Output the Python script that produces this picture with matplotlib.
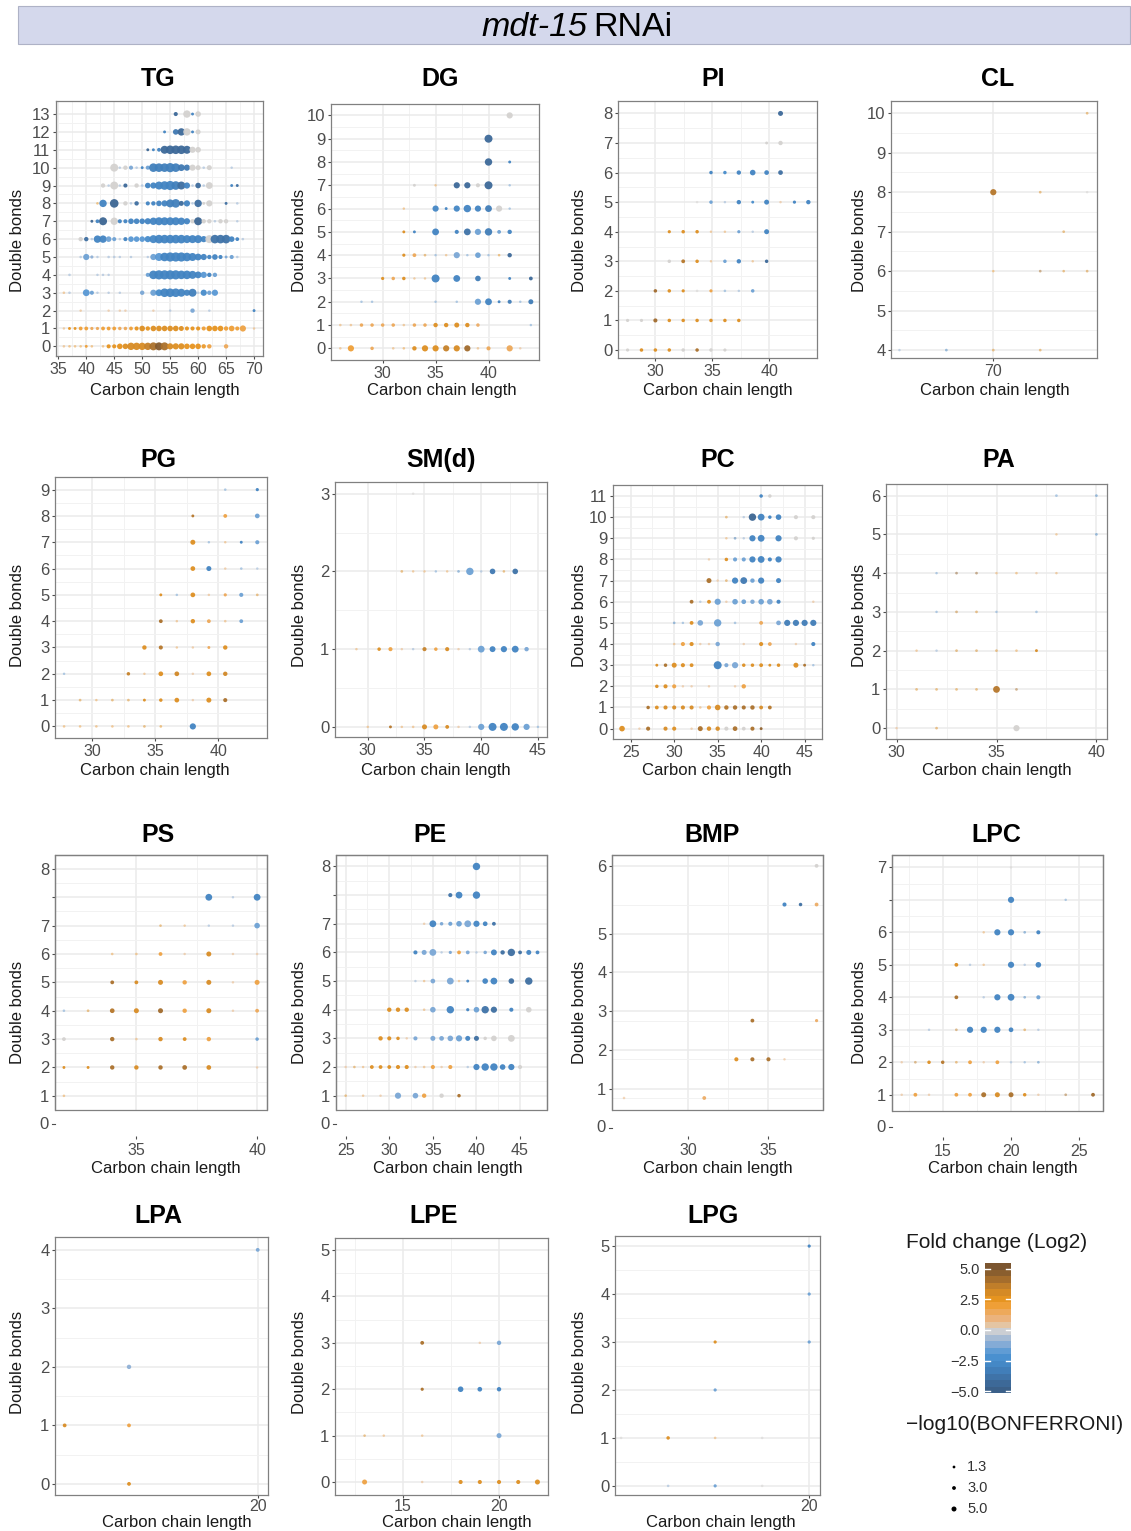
import matplotlib
matplotlib.use("Agg")
import matplotlib.pyplot as plt
import numpy as np
from matplotlib.colors import LinearSegmentedColormap, Normalize
from matplotlib.patches import Rectangle
import matplotlib.transforms as mtransforms

plt.rcParams['font.family'] = ['Liberation Sans', 'DejaVu Sans']

# ---------------- data: (carbon, double bonds / row position, log2 FC, -log10 p) ----------------
TG = [
(56,13,-4.3,3.5),(58,13,0,9),(59,13,-3,1.5),(60,13,0,6),
(54,12,-3,1.5),(56,12,-3.5,6),(57,12,-4.3,9),(58,12,0,9),(59,12,-3,1.5),(60,12,0,5),
(51,11,-4.5,1.5),(52,11,-3,1.5),(53,11,-3,3),(54,11,-4.3,10),(55,11,-4.3,11),(56,11,-4.3,11),(57,11,-4.3,11),(58,11,-4.3,10),(59,11,0,7),(60,11,0,6),
(45,10,0,10),(46,10,-1,0.8),(47,10,0,4),(48,10,-1.3,3.5),(49,10,-1,1),(50,10,-3,1.5),(51,10,-1.5,3.5),(52,10,-3.2,11),(53,10,-3.2,11),(54,10,-3.2,11),(55,10,-3.2,12),(56,10,-3.2,11),(57,10,-3.5,8),(58,10,-3.5,7),(59,10,0,7),(60,10,0,5),(61,10,-1,1),(62,10,0,5),(66,10,-1,0.8),
(43,9,0,4),(44,9,-1,1),(45,9,0,10),(46,9,-1,0.8),(47,9,-4.3,3.5),(49,9,0,4),(50,9,-1,1),(51,9,-3,6),(52,9,-3,7),(53,9,-3,10),(54,9,-3,11),(55,9,-3,12),(56,9,-3.2,11),(57,9,-4,10),(58,9,-3,7),(59,9,-1,1),(60,9,-4.2,6),(61,9,-1,1),(62,9,0,8),(66,9,-3,1.5),(67,9,-4,1.5),
(42,8,2.5,1),(43,8,-3,9),(45,8,-4.5,11),(47,8,0,4),(48,8,-1,1),(49,8,-4,4),(51,8,-3,3.5),(52,8,-3,4),(53,8,-3,6),(54,8,-3,7),(55,8,-3.2,10),(56,8,-3.2,11),(57,8,-4.2,5),(58,8,-3,7),(59,8,-1,1),(60,8,-4,9),(61,8,0,1.5),(62,8,0,7),(65,8,-4,1.5),(67,8,-1,1),
(41,7,-4.5,1.5),(42,7,-3,3),(43,7,-4.5,10),(45,7,0,9),(46,7,-3,3.5),(47,7,-3,3.5),(48,7,-3,6),(49,7,-3,6),(50,7,-3,6),(51,7,-3,7),(52,7,-3,9),(53,7,-3,10),(54,7,-3,10),(55,7,-3,10),(56,7,-3,10),(57,7,-3,9),(58,7,-3,7),(59,7,0,4),(60,7,-4.5,10),(61,7,0,4),(62,7,0,4),(63,7,-1,1),(64,7,0,4),(65,7,0,4),(67,7,-1,0.8),
(39,6,0,4),(40,6,-4,4),(41,6,-1,1),(42,6,-3,9),(43,6,-3,9),(44,6,-1.5,6),(45,6,-1.5,3.5),(46,6,-1,1),(47,6,-3,3.5),(48,6,-1.8,6),(49,6,-1.8,6),(50,6,-1.8,6),(51,6,-2.5,7),(52,6,-2.8,10),(53,6,-3,11),(54,6,-3,11),(55,6,-3,11),(56,6,-3,11),(57,6,-3,11),(58,6,-3,10),(59,6,-3,10),(60,6,-3,10),(61,6,-3,7),(62,6,0,10),(63,6,-3.8,11),(64,6,-3.8,11),(65,6,-3.8,11),(66,6,-3,6),(67,6,-3,3),(68,6,-1,1),
(39,5,-1,1),(40,5,-1.5,7),(41,5,-1,2),(42,5,-1,0.8),(44,5,-1,1),(45,5,-1,1),(46,5,-1,0.8),(48,5,-1,0.8),(51,5,-1,0.8),(52,5,-1.5,7),(53,5,-1.8,10),(54,5,-3,11),(55,5,-3,12),(56,5,-3,12),(57,5,-3,12),(58,5,-3,11),(59,5,-3,10),(60,5,-3,8),(61,5,-3,7),(62,5,-3,4),(63,5,-3,6),(64,5,-3,3.5),(65,5,-1.3,1.5),(66,5,-1.5,3.5),(67,5,-1,1),
(37,4,-1,1),(42,4,-1,0.8),(43,4,-1,0.8),(44,4,-1,0.8),(51,4,-1.5,3.5),(52,4,-3,11),(53,4,-3,12),(54,4,-3,12),(55,4,-3,12),(56,4,-3,12),(57,4,-3,11),(58,4,-3,11),(59,4,-3,10),(60,4,-3,8),(61,4,-1.8,7),(62,4,-3,4),(63,4,-1.5,4),
(36,3,1.5,1),(37,3,-1,1),(40,3,-1.8,8),(41,3,-1.5,3.5),(42,3,-1,0.8),(44,3,-1,0.8),(46,3,-1,0.8),(50,3,-1.3,4),(52,3,-1.5,7),(53,3,-2.5,8),(54,3,-3,11),(55,3,-3,11),(56,3,-3,11),(57,3,-3,10),(58,3,-3,7),(59,3,-3.2,10),(60,3,-1,1),(61,3,-2.5,7),(62,3,-1.5,4),(63,3,-1.8,7),
(39,2,1.3,0.8),(44,2,1,0.8),(46,2,1,0.8),(47,2,1,0.8),(52,2,1,0.8),(55,2,-1,0.8),(59,2,-1.3,4),(62,2,-1,0.8),(70,2,-3,1.5),
(36,1,1.5,0.8),(37,1,2.5,1.5),(38,1,2.5,1.5),(39,1,2,3),(40,1,2,3),(41,1,1.5,2),(42,1,1.5,2),(43,1,2,3),(44,1,2,3),(45,1,2,3),(46,1,1.5,2.5),(47,1,1.5,2.5),(48,1,2,3),(49,1,2.5,3.5),(50,1,2.8,6),(51,1,2.5,4),(52,1,2.8,6),(53,1,2.8,6),(54,1,2.8,6),(55,1,2.8,6),(56,1,2.8,6),(57,1,2.8,5),(58,1,2.5,3.5),(59,1,2.5,3.5),(60,1,2.5,3.5),(61,1,2,3.5),(62,1,2.5,6),(63,1,2.5,6),(64,1,2.5,6),(65,1,2,4),(66,1,2,6),(67,1,2,3.5),(68,1,1.8,7),(70,1,1.5,0.8),
(36,0,1.5,1),(37,0,2,1),(38,0,2,1),(39,0,2,1),(40,0,2,1.5),(41,0,2,1),(43,0,2,1),(44,0,2.5,3.5),(45,0,2.5,3.5),(46,0,2.5,6),(47,0,2.8,6),(48,0,3,9),(49,0,3,9),(50,0,3,9),(51,0,3.5,9),(52,0,4,10),(53,0,4.8,10),(54,0,4,10),(55,0,3,7),(56,0,2.8,7),(57,0,2.8,7),(58,0,2.5,6),(59,0,2.5,6),(60,0,2.5,6),(61,0,2.2,4),(62,0,1.8,4),(65,0,1.5,4),
]
DG = [
(42,10,0,7),
(40,9,-4.3,10),
(40,8,-4.3,9),(42,8,-3,1.5),
(33,7,0,1.5),(35,7,1.8,0.8),(37,7,-4.3,7),(38,7,-4.3,7),(39,7,0,3.5),(40,7,-4.3,10),(42,7,-1.5,0.8),
(32,6,1.8,0.8),(35,6,-2.8,7),(36,6,-3,1.5),(37,6,-2.8,7),(38,6,-3,9),(39,6,-3,7),(40,6,-3.3,8),(41,6,0,7),(42,6,-1.5,0.8),
(32,5,2.8,1.5),(33,5,-3,1.5),(35,5,-3,8),(37,5,-3,3.5),(38,5,-3.8,8),(39,5,-1.5,7),(40,5,-3.3,9),(41,5,-1.5,3),(42,5,-3,4),
(32,4,2.8,2),(33,4,1.5,3),(34,4,2.8,1.2),(35,4,-1.5,0.8),(36,4,1.5,0.8),(37,4,-1.3,7),(38,4,-1.5,0.8),(39,4,-1.5,6),(40,4,-1.5,0.8),(41,4,2.5,1),(42,4,-4.3,4),
(30,3,2.8,2),(31,3,1.5,2.5),(32,3,2.8,2.5),(33,3,1.5,0.8),(34,3,1.5,0.8),(35,3,-3,10),(37,3,-3,8),(39,3,-3.3,6),(42,3,-3,1.5),(44,3,-4.3,3),
(28,2,-1.5,0.8),(29,2,-1.5,0.8),(35,2,-1.5,0.8),(37,2,-1.5,0.8),(39,2,-1.5,7),(40,2,-3,8),(41,2,-3,1.5),(42,2,-3.3,3.5),(43,2,-1.5,0.8),(44,2,-3.3,5),
(26,1,1.5,1),(27,1,1.5,1),(28,1,1.5,2.5),(29,1,1.5,2.5),(30,1,1.5,2.5),(31,1,1.5,2.5),(32,1,1.5,1),(33,1,1.5,2.5),(34,1,1.5,2.5),(35,1,2.8,4),(36,1,2.8,4),(37,1,2.8,5),(38,1,2.8,4),(39,1,1.3,2.5),(44,1,-1.5,0.8),
(26,0,1.5,1),(27,0,2,7),(29,0,1.5,2.5),(31,0,1.5,1),(32,0,2,1),(33,0,2.8,4),(34,0,2.8,7),(35,0,2.8,7),(36,0,3.5,7),(37,0,3,7),(38,0,4.2,7),(39,0,1.5,1),(40,0,1.5,3.5),(42,0,1.5,7),(43,0,1,0.8),
]
PI = [
(40.98,8,-4.3,5),
(39.76,7,0,1.5),(40.98,7,0,4),
(34.88,6,-3,2.5),(36.1,6,-2.5,2.5),(37.32,6,-3,4),(38.54,6,-3,6),(39.76,6,-3,4.5),(40.98,6,-4,4.5),
(33.66,5,0,0.8),(34.88,5,-1.5,2.5),(36.1,5,-1,0.8),(37.32,5,-3,4),(38.54,5,-2.5,1.5),(39.76,5,-3,5),(40.98,5,1,0.8),(42.2,5,-3,2),(43.42,5,-3,4),
(31.22,4,2.8,2),(32.44,4,2.8,2.5),(33.66,4,2.8,2.5),(34.88,4,1.5,0.8),(36.1,4,1.5,0.8),(37.32,4,-1.5,2),(38.54,4,-1,0.8),(39.76,4,-3,5),
(31.22,3,0,2.5),(32.44,3,3.8,3),(33.66,3,2.8,2.5),(34.88,3,1.5,0.8),(36.1,3,-1.5,2.5),(37.32,3,-3,4),(38.54,3,1.5,0.8),(39.76,3,-4.3,2.5),
(30,2,4.2,2.5),(31.22,2,2.8,2.5),(32.44,2,2.8,2),(33.66,2,0,1),(34.88,2,1.8,2),(36.1,2,-1.5,1),(37.32,2,-1,0.8),(38.54,2,-1.5,2.5),
(27.56,1,0,2),(28.78,1,0,2),(30,1,4.2,3.5),(31.22,1,2.8,2.5),(32.44,1,2.8,2.5),(33.66,1,2.8,2.5),(34.88,1,2.8,2.5),(36.1,1,2.8,2.5),(37.32,1,2.8,2.5),
(27.56,0,0,2),(28.78,0,2.8,2.5),(30,0,2.8,2.5),(31.22,0,2.8,2.5),(32.44,0,0,2.5),(33.66,0,4,2.5),(34.88,0,0,2.5),(36.1,0,0,2),
]
CL = [
(72,10,2.8,1.2),
(70,8,3.8,7),(71,8,2.8,1.2),(72,8,0,0.8),
(71.5,7,2.8,1.2),
(70,6,2,0.8),(71,6,4,1.2),(71.5,6,2.8,1),(72,6,3,1.2),
(68,4,-1,0.8),(69,4,-3,1.2),(70,4,2.8,1.2),(71,4,2.8,1.2),
]
PG = [
(40.56,9,-1.5,1),(43.1,9,-3,2),
(37.99,8,3.8,1.5),(40.56,8,1.8,3),(43.1,8,-1.5,4.5),
(37.99,7,2.8,5),(39.26,7,-1.5,0.8),(40.56,7,1.5,0.8),(41.83,7,-3,1.5),(43.1,7,-1.5,3.5),
(37.99,6,2.8,4.5),(39.26,6,-3,5),(40.56,6,1.2,0.8),(41.83,6,-1.5,1),(43.1,6,-1,0.8),
(35.45,5,2.8,1.5),(36.72,5,-1.5,0.8),(37.99,5,2.8,4.5),(39.26,5,1.2,0.8),(40.56,5,1.5,2),(41.83,5,-1.5,3.5),(43.1,5,2.8,1.2),
(35.45,4,4,3),(36.72,4,1.5,0.8),(37.99,4,2.8,4),(39.26,4,1.5,3),(40.56,4,1.5,1),(41.83,4,-1.5,3),
(34.15,3,2.8,4),(35.45,3,3.8,3.5),(36.72,3,1.5,0.8),(37.99,3,1.2,0.8),(39.26,3,1.5,1.5),(40.56,3,2.8,4),
(27.78,2,-1.5,0.8),(32.88,2,3.5,2.5),(34.15,2,1.5,0.8),(35.45,2,2.8,4.5),(36.72,2,3.2,4.5),(37.99,2,1,0.8),(39.26,2,2.8,4.5),(40.56,2,3.2,4),
(29.05,1,2.8,1.2),(30.34,1,1.8,0.8),(31.61,1,2.8,1.2),(32.88,1,2.8,1.2),(34.15,1,2.8,1.5),(35.45,1,2.8,2.5),(36.72,1,2.8,4.5),(37.99,1,1,0.8),(39.26,1,2.8,5),(40.56,1,4,3.5),
(27.78,0,1.8,1),(29.05,0,1.8,1),(30.34,0,1.8,1),(31.61,0,1.8,1),(32.88,0,1.8,1),(34.15,0,2.8,1.2),(35.45,0,2.5,1.2),(37.99,0,-3,7),
]
SMd = [
(34,3,0,0.8),
(33,2,2.8,1.2),(34,2,1.5,0.8),(35,2,1.5,0.8),(36,2,-1.5,0.8),(37,2,1.5,0.8),(38,2,-3,1.2),(39,2,-1.5,9),(40,2,-1,0.8),(41,2,-3.5,6),(42,2,2.8,1),(43,2,-3.8,6),
(29,1,1.5,0.8),(31,1,2.8,2.5),(32,1,1.8,3.5),(33,1,1,0.8),(34,1,-1,0.8),(35,1,3.5,3.5),(36,1,1.8,2.5),(37,1,3,3.5),(38,1,1,0.8),(39,1,-1,0.8),(40,1,-1.5,8),(41,1,-3,6.5),(42,1,-3,7),(43,1,-3,8),(44,1,-1.3,4),
(30,0,1.5,0.8),(32,0,3.8,1.5),(33,0,1.5,0.8),(34,0,1.5,1),(35,0,3,5),(36,0,1.8,5),(37,0,3,3),(38,0,1,0.8),(39,0,-1,0.8),(40,0,-1.5,7),(41,0,-3,10),(42,0,-3,10),(43,0,-3,9),(44,0,-1.5,7),(45,0,-1.5,0.8),
]
PC = [
(40,11,-3,2.5),(41,11,0,2.5),
(36,10,2.8,1.2),(38,10,-1,0.8),(39,10,-4.5,9),(40,10,-3,8),(41,10,-3,2.5),(42,10,-3,6),(44,10,0,3.5),(46,10,0,3.5),
(36,9,1.5,0.8),(37,9,-3.5,1.2),(38,9,-1,0.8),(39,9,-3,7),(40,9,-3,8),(42,9,-3,7),(44,9,0,3.5),(46,9,0,2),
(34,8,1,0.8),(36,8,2.8,2.5),(37,8,-1.5,3.5),(38,8,-1.5,3.5),(39,8,-3,7),(40,8,-3,8),(41,8,-3,3.5),(42,8,-3,7),
(34,7,4,5),(35,7,1,0.8),(36,7,2.8,1.2),(37,7,-3,7),(38,7,-3.5,8),(39,7,-1.5,4),(40,7,-3,7),(42,7,-3,5),
(32,6,4,3),(33,6,-1,0.8),(34,6,2.8,3),(35,6,-1.5,7),(36,6,1,0.8),(37,6,-1.5,6),(38,6,-1.5,4.5),(39,6,-1.3,4),(40,6,-1.5,6),(41,6,-1.3,6),(42,6,-3,3.5),(46,6,1,0.8),
(30,5,-3,1),(31,5,-1.5,0.8),(32,5,2.8,3),(33,5,-1.3,6),(35,5,-1.5,9),(37,5,-1.5,1),(40,5,1.5,3),(42,5,-1.3,4.5),(43,5,-3.3,7),(44,5,-3.3,7),(45,5,-3.3,7),(46,5,-3.3,7),
(30,4,1.5,0.8),(31,4,1.8,3.5),(32,4,2.8,3.5),(33,4,1,0.8),(34,4,1,0.8),(35,4,-1.3,4),(38,4,1,0.8),(40,4,2.8,3.5),(41,4,1.5,3),(44,4,1,0.8),(46,4,-3,3.5),
(28,3,2.8,1.5),(29,3,4,2.5),(30,3,2.8,5),(31,3,2.8,3.5),(32,3,2.8,3),(35,3,-3,10),(36,3,-1.3,3.5),(37,3,-1.3,7),(38,3,2.8,2.5),(39,3,2.8,2.5),(40,3,2.8,3),(41,3,2.8,1.5),(42,3,2.8,2.5),(44,3,2.8,5),(45,3,4,1.5),(46,3,-1.5,0.8),
(28,2,2.8,2.5),(29,2,2.8,3.5),(30,2,1.8,3.5),(31,2,1,0.8),(32,2,1,0.8),(34,2,1,0.8),(37,2,1,0.8),(38,2,1.8,4),
(27,1,4,2.5),(28,1,2.8,3),(29,1,3,3.5),(30,1,3,3.5),(31,1,3,3.5),(32,1,3,3.5),(33,1,1.5,1),(34,1,1.8,3.5),(35,1,3,6),(36,1,3.8,4),(37,1,4,4),(38,1,4,3.5),(39,1,4,4),(40,1,3,3),(41,1,3.8,3),
(24,0,2.8,6),(26,0,1,0.8),(27,0,4,3.5),(29,0,3,3.5),(30,0,2.8,3.5),(32,0,1,0.8),(33,0,4,5),(34,0,3,4),(35,0,3,4),(36,0,0,3.5),(37,0,4,4.5),(38,0,0,3),(39,0,4,3.5),(40,0,4.5,1.5),
]
PA = [
(38,6,-1.5,1.2),(40,6,-3,1.2),
(38,5,1.5,0.8),(40,5,-3,1.2),
(32,4,-1.5,0.8),(33,4,4.5,1.2),(34,4,4.3,1.2),(35,4,1.5,0.8),(36,4,1.8,1),(37,4,1,0.8),(38,4,1.5,0.8),
(32,3,-1.5,0.8),(33,3,3.5,1.2),(34,3,3,1.2),(35,3,-1.5,0.8),(37,3,-1.5,1),
(31,2,1.5,0.8),(32,2,-1,0.8),(33,2,3,1.2),(34,2,3,1.2),(35,2,2.8,1.2),(36,2,1.8,1),(37,2,3,1.5),
(31,1,2.8,1.2),(32,1,2.8,1.2),(33,1,2.8,1.2),(34,1,2.8,1.2),(35,1,3.8,8),(36,1,4,1.2),
(30,0,1,0.8),(32,0,2.8,1.2),(36,0,0,7),
]
PS = [
(32,1,1.8,1),
(32,2,2.8,1.5),(33,2,2.8,1.5),(34,2,4,4),(35,2,3,4),(36,2,4,4),(37,2,4,4.5),(38,2,3,4.5),(40,2,1,0.8),
(32,3,0,3),(34,3,4,4),(35,3,1.5,1),(36,3,3,4),(37,3,2.8,3),(38,3,1.8,4),(40,3,-1.5,2.5),
(32,4,-1.5,1),(33,4,2.8,1.2),(34,4,3.8,4.5),(35,4,3,5),(36,4,4.2,5),(37,4,1.8,4),(38,4,3,5),(39,4,1,0.8),(40,4,1.5,3),
(34,5,4,3),(35,5,3,3),(36,5,3,5),(37,5,1.8,4),(38,5,3,5),(39,5,1,0.8),(40,5,1.8,5),
(34,6,1.8,1),(35,6,1.8,1),(36,6,1.8,3),(37,6,1,0.8),(38,6,3,5),(39,6,1,0.8),(40,6,1,0.8),
(36,7,2.8,1),(37,7,1.5,0.8),(38,7,-1,0.8),(39,7,-1,0.8),(40,7,-1.5,6),
(38,8,-3,8),(39,8,-1,0.8),(40,8,-3,8),
]
PE = [
(40,9,-3,9),
(37,8,-3.8,3.5),(38,8,-3,8),(40,8,-3,9),
(34,7,1,0.8),(35,7,-3,8),(36,7,-1.3,2.5),(37,7,-1.5,3.5),(38,7,-1.5,6),(39,7,-1.3,8),(40,7,-2.8,7),(41,7,-3,4.5),(42,7,-3.8,3),
(33,6,-3,3.5),(34,6,-1.3,5),(35,6,-1.3,8),(36,6,-1,0.8),(37,6,-1.3,2),(38,6,1.8,3),(39,6,-1.3,3),(40,6,-1,0.8),(41,6,-1.3,2.5),(42,6,-3,6.5),(43,6,-4,4),(44,6,-4,9),(45,6,-4,3),(46,6,-3,5),(47,6,-3,3),
(33,5,-1,0.8),(34,5,1.5,0.8),(35,5,-1.3,4.5),(37,5,-1.3,8),(38,5,1.5,0.8),(39,5,-3,1.5),(41,5,-3,6),(42,5,-3,8),(44,5,-4,6),(46,5,-4,9),
(30,4,2.8,4),(31,4,2.8,4),(32,4,2.8,4),(34,4,1.5,1),(35,4,-1.3,6),(37,4,-3,9),(39,4,-3,2),(40,4,-1.5,6),(41,4,-3.8,9),(42,4,-4,7),(44,4,-3,3.5),(46,4,0,6),
(29,3,2.8,4),(30,3,2.8,3.5),(31,3,2.8,2.5),(32,3,1,0.8),(33,3,-1.3,3.5),(35,3,-1.3,5),(36,3,-1.3,4.5),(37,3,-1.3,6),(38,3,-1.5,7),(39,3,-3,5),(40,3,-4,5),(41,3,0,2.5),(42,3,0,6),(44,3,0,8),
(25,2,1,0.8),(26,2,2.8,1),(27,2,1.5,0.8),(28,2,2.8,3),(29,2,2.8,3),(30,2,2.8,3),(31,2,2.8,3.5),(32,2,2.8,3.5),(33,2,1,0.8),(34,2,1.5,1),(35,2,1.8,3.5),(36,2,1,0.8),(37,2,1.8,3.5),(39,2,-1,0.8),(40,2,-3,7),(41,2,-3,9),(42,2,-3,9),(43,2,-3,6),(44,2,-3,7),(45,2,0,3.5),
(25,1,2.8,1),(27,1,1.5,0.8),(29,1,1,0.8),(31,1,-1.3,7),(33,1,-1.3,6),(34,1,1.8,4),(36,1,0,4),(38,1,4,2.5),
]
BMP = [
(36,6,-3,3.5),(37,6,-4,2.5),(38,6,1.3,3),(38,7,0,3),
(34,3,4,3),(38,3,1.3,2),
(33,2,2.8,3.5),(34,2,4,3.5),(35,2,4,3.5),(36,2,1,0.8),
(26,1,1,1),(31,1,1.3,3),
]
LPC = [
(20,8,0,0.8),
(20,7,-3,7),(24,7,-1.5,0.8),
(18,6,1.5,0.8),(19,6,-3,7),(20,6,-3,7),(21,6,-3,1.2),(22,6,-3,3.5),
(16,5,2.8,3),(17,5,-1,0.8),(18,5,1.5,0.8),(20,5,-3,7),(21,5,-1,0.8),(22,5,-3,6),
(16,4,4,3),(18,4,-1,0.8),(19,4,-3,7),(20,4,-3,8),(21,4,-3,1.2),(22,4,-1.5,3.5),
(14,3,-1,0.8),(16,3,3.5,1.2),(17,3,-3,7),(18,3,-3,7),(19,3,-3,7),(20,3,-3,4.5),(21,3,2.8,1.2),(22,3,-1,0.8),
(12,2,1,0.8),(13,2,3.5,1.2),(14,2,2.8,2.5),(15,2,3.8,2.5),(16,2,2.8,1.2),(17,2,1.8,3),(18,2,1,0.8),(19,2,1.8,3),(20,2,-1,0.8),(21,2,-1.5,0.8),(22,2,-3,1.2),
(12,1,1,0.8),(13,1,1.8,3),(14,1,1,0.8),(16,1,1.8,3),(17,1,1.8,3),(18,1,4,5),(19,1,3,5),(20,1,4,5),(21,1,2.8,2.5),(22,1,1,0.8),(24,1,4,1.2),(26,1,4.2,3),
]
LPA = [(20,4,-1.3,3),(18,2,-1,4),(17,1,3,3),(18,1,1.8,3),(18,0,2.8,3)]
LPE = [
(13,0,1.8,5),(16,0,1,0.8),(18,0,2.8,3.5),(19,0,2.8,3.5),(20,0,2.8,3.5),(21,0,2.8,3.5),(22,0,2.8,5),
(13,1,2.8,1),(14,1,1.5,0.8),(16,1,1.5,0.8),(20,1,-1.3,5),
(16,2,4,2),(18,2,-3,6),(19,2,-3,4.5),(20,2,-3,4),
(16,3,4,3),(19,3,1,0.8),(20,3,-1.3,4),
]
LPG = [
(20,5,-3,2),(20,4,-1.5,2),(18,3,2.8,2),(20,3,-1.5,2),(18,2,-1.5,2),
(16,1,0,1),(17,1,2.8,2.5),(18,1,1.5,1),(19,1,0,1),
(17,0,-1,1),(18,0,-1.5,2),(19,0,0,1),
]

# tick values / labels
TG_X = [35,40,45,50,55,60,65,70];  TG_Y = list(range(14))
DG_X = [30,35,40];                 DG_Y = list(range(11))
PI_X = [30,35,40];                 PI_Y = list(range(9))
CL_X = [70];                       CL_Y = list(range(4,11))
PG_X = [30,35,40];                 PG_Y = list(range(10))
SM_X = [30,35,40,45];              SM_Y = list(range(4))
PC_X = [25,30,35,40,45];           PC_Y = list(range(12))
PA_X = [30,35,40];                 PA_Y = list(range(7))
PS_X = [35,40];   PS_YPOS = list(range(1,10)); PS_YLAB = ['1','2','3','4','5','6','7','','8']
PE_X = [25,30,35,40,45]; PE_YPOS = list(range(1,10)); PE_YLAB = ['1','2','3','4','5','6','7','','8']
BMP_X = [30,35];  BMP_YPOS = [1.24,2.24,3.24,4.25,5.24,7.0]; BMP_YLAB = ['1','2','3','4','5','6']
LPC_X = [15,20,25]; LPC_YPOS = list(range(1,9)); LPC_YLAB = ['1','2','3','4','5','6','','7']
LPA_X = [20];     LPA_Y = list(range(5))
LPE_X = [15,20];  LPE_Y = list(range(6))
LPG_X = [20];     LPG_Y = list(range(6))

FC_TICKS = [5.0, 2.5, 0.0, -2.5, -5.0]
SIG_LEGEND = [1.3, 3.0, 5.0]

# ---------------- style ----------------
W, H = 1131, 1531
fig = plt.figure(figsize=(W/100, H/100), dpi=100)

CSTOPS = [(0.00, '#3b5e86'), (0.10, '#3e6fa2'), (0.20, '#4284c2'), (0.30, '#4c93d3'),
          (0.40, '#8fb0d6'), (0.47, '#bcc5d2'), (0.50, '#d3d3d3'), (0.53, '#e3c9ab'),
          (0.60, '#ebb27a'), (0.70, '#ef9f38'), (0.75, '#e8951f'), (0.85, '#c7822a'),
          (0.93, '#9c682d'), (1.00, '#7b552f')]
cmap = LinearSegmentedColormap.from_list('fc', CSTOPS, N=256)
norm = Normalize(-5, 5)
TICK_C = '#4d4d4d'
BORDER_C = '#808080'

def msize(sig):
    d_px = 2.0 + 0.6*np.asarray(sig, float)
    return (d_px*0.72)**2

def fpx(x, y):
    return x/W, 1 - y/H

def mids(v):
    return [(a+b)/2 for a, b in zip(v[:-1], v[1:])]

def panel(pts, box, xlim, ylim, xt, ypos, ylab, title, title_x, title_y,
          xlab_xy, ylab_xy, shifted=False, xminor=None, yminor=None, zero_pos=0, xpad=2):
    l, t, r, b = box
    ax = fig.add_axes([l/W, 1-b/H, (r-l)/W, (b-t)/H])
    ax.set_xlim(*xlim); ax.set_ylim(*ylim)
    ax.set_xticks(xt); ax.set_xticklabels([str(v) for v in xt])
    ax.set_xticks(xminor if xminor is not None else mids(xt), minor=True)
    ax.set_yticks(ypos); ax.set_yticklabels(ylab)
    yfull = ([zero_pos] + list(ypos)) if shifted else list(ypos)
    ax.set_yticks(yminor if yminor is not None else mids(yfull), minor=True)
    ax.grid(which='major', color='#ebebeb', lw=1.1)
    ax.grid(which='minor', color='#f2f2f2', lw=0.7)
    ax.set_axisbelow(True)
    ax.tick_params(which='major', length=2.5, width=0.8, color=TICK_C,
                   labelcolor=TICK_C, labelsize=12, pad=1.5)
    ax.tick_params(axis='x', labelsize=11.5, pad=xpad)
    ax.tick_params(which='minor', length=0)
    for s in ax.spines.values():
        s.set_color(BORDER_C); s.set_linewidth(0.9)
    if shifted:
        ax.spines['bottom'].set_position(('outward', 19))
        ax.spines['bottom'].set_visible(False)
        ax.add_patch(Rectangle((0, 0), 1, 1, transform=ax.transAxes, fill=False,
                               ec=BORDER_C, lw=0.9, clip_on=False, zorder=5))
        tr = mtransforms.blended_transform_factory(ax.transAxes, ax.transData)
        ax.annotate('0', xy=(0, zero_pos), xycoords=tr, xytext=(-4.3, 0), textcoords='offset points',
                    ha='right', va='center', fontsize=12, color=TICK_C, annotation_clip=False)
        ax.plot([-0.016, 0], [zero_pos, zero_pos], transform=tr, color=TICK_C, lw=0.8, clip_on=False)
    c = np.array([p[0] for p in pts], float)
    d = np.array([p[1] for p in pts], float)
    f = np.array([p[2] for p in pts], float)
    s = np.array([p[3] for p in pts], float)
    rgba = cmap(norm(f))
    rgba[:, 3] = np.where(s < 1.3, 0.5, 0.95)
    ax.scatter(c, d, s=msize(s), c=rgba, edgecolors='none', zorder=3)
    x, y = fpx(title_x, title_y)
    fig.text(x, y, title, ha='center', va='baseline', fontsize=18, fontweight='bold', color='black')
    x, y = fpx(*xlab_xy)
    fig.text(x, y, 'Carbon chain length', ha='center', va='center', fontsize=12, color='#1a1a1a')
    x, y = fpx(*ylab_xy)
    fig.text(x, y, 'Double bonds', ha='center', va='center', rotation=90, fontsize=12, color='#1a1a1a')
    return ax

# title bar
fig.patches.append(Rectangle(fpx(18, 44), 1112/W, 38/H, transform=fig.transFigure,
                             fc='#d4d8ec', ec='#aeb2c6', lw=0.8))
fig.text(*fpx(587, 36), 'mdt-15', ha='right', va='baseline', fontsize=24.5, style='italic')
fig.text(*fpx(593, 36), 'RNAi', ha='left', va='baseline', fontsize=24.5)

# row 1
panel(TG, (56, 101, 263, 356), (34.59, 71.6), (-0.54, 13.73), TG_X, TG_Y, [str(v) for v in TG_Y],
      'TG', 158, 86, (165, 391), (18, 240))
panel(DG, (331, 104, 539, 360), (25.12, 44.77), (-0.5, 10.49), DG_X, DG_Y, [str(v) for v in DG_Y],
      'DG', 440, 86, (442, 391), (299, 240))
panel(PI, (618, 101, 817, 358), (26.72, 44.18), (-0.27, 8.42), PI_X, PI_Y, [str(v) for v in PI_Y],
      'PI', 713, 86, (718, 391), (580, 240))
panel(CL, (891, 101, 1097, 358), (67.82, 72.21), (3.8, 10.31), CL_X, CL_Y, [str(v) for v in CL_Y],
      'CL', 998, 86, (995, 391), (860, 240), xminor=[])

# row 2
panel(PG, (55, 477, 267, 738), (27.06, 43.87), (-0.44, 9.48), PG_X, PG_Y, [str(v) for v in PG_Y],
      'PG', 158, 467, (155, 770), (18, 615))
panel(SMd, (335, 482, 547, 737), (27.11, 45.8), (-0.13, 3.15), SM_X, SM_Y, [str(v) for v in SM_Y],
      'SM(d)', 441, 467, (436, 770), (299, 615))
panel(PC, (613, 485, 822, 739), (22.96, 47.0), (-0.49, 11.52), PC_X, PC_Y, [str(v) for v in PC_Y],
      'PC', 718, 467, (717, 770), (580, 615))
panel(PA, (886, 484, 1107, 739), (29.47, 40.53), (-0.28, 6.3), PA_X, PA_Y, [str(v) for v in PA_Y],
      'PA', 999, 467, (997, 770), (860, 615))

# row 3
panel(PS, (55, 855, 267, 1110), (31.63, 40.41), (0.6, 9.49), PS_X, PS_YPOS, PS_YLAB,
      'PS', 158, 842, (166, 1168), (18, 1012), shifted=True)
panel(PE, (336, 855, 547, 1110), (23.89, 48.09), (0.62, 9.4), PE_X, PE_YPOS, PE_YLAB,
      'PE', 430, 842, (448, 1168), (299, 1012), shifted=True)
panel(BMP, (612, 855, 823, 1110), (25.25, 38.4), (0.69, 7.28), BMP_X, BMP_YPOS, BMP_YLAB,
      'BMP', 712, 842, (718, 1168), (580, 1012), shifted=True, zero_pos=0.23,
      yminor=[1, 2, 3, 6])
panel(LPC, (892, 855, 1103, 1111), (11.29, 26.73), (0.67, 8.38), LPC_X, LPC_YPOS, LPC_YLAB,
      'LPC', 996, 842, (1003, 1168), (860, 1012), shifted=True, xminor=[12.5, 17.5, 22.5])

# row 4
panel(LPA, (55, 1237, 268, 1495), (16.85, 20.16), (-0.19, 4.22), LPA_X, LPA_Y, [str(v) for v in LPA_Y],
      'LPA', 158, 1223, (177, 1523), (18, 1362), xminor=[], xpad=0.5)
panel(LPE, (335, 1238, 548, 1495), (11.46, 22.55), (-0.28, 5.26), LPE_X, LPE_Y, [str(v) for v in LPE_Y],
      'LPE', 434, 1223, (457, 1523), (299, 1362), xminor=[12.5, 17.5], xpad=0.5)
panel(LPG, (615, 1236, 820, 1495), (15.87, 20.23), (-0.19, 5.21), LPG_X, LPG_Y, [str(v) for v in LPG_Y],
      'LPG', 713, 1223, (721, 1523), (580, 1362), xminor=[], xpad=0.5)

# ---------------- legends ----------------
fig.text(*fpx(997, 1243), 'Fold change (Log2)', ha='center', va='center', fontsize=15, color='#1a1a1a')
cax = fig.add_axes([985/W, 1-1393/H, 26/W, 130/H])
lo, hi = -5.13, 5.45
edges = np.linspace(lo, hi, 21)
centers = (edges[:-1] + edges[1:]) / 2
cax.pcolormesh([0, 1], edges, centers.reshape(-1, 1), cmap=cmap, norm=norm, shading='flat')
cax.set_xlim(0, 1); cax.set_ylim(lo, hi)
cax.set_xticks([])
cax.set_yticks(FC_TICKS)
cax.set_yticklabels([f'{v:.1f}'.replace('-', '\u2212') for v in FC_TICKS])
cax.tick_params(axis='y', length=0, labelsize=10.5, labelcolor='#333333', pad=4)
for v in FC_TICKS:
    cax.plot([0, 0.2], [v, v], color='white', lw=1.0)
    cax.plot([0.8, 1], [v, v], color='white', lw=1.0)
for s in cax.spines.values():
    s.set_visible(False)

fig.text(*fpx(1015, 1424), '\u2212log10(BONFERRONI)', ha='center', va='center', fontsize=15, color='#1a1a1a')
lax = fig.add_axes([0, 0, 1, 1], facecolor='none')
lax.set_xlim(0, W); lax.set_ylim(H, 0); lax.axis('off')
for i, v in enumerate(SIG_LEGEND):
    yy = 1467 + 21*i
    lax.scatter([954], [yy], s=msize(v), color='black', edgecolors='none')
    lax.text(967, yy, f'{v:.1f}', ha='left', va='center', fontsize=10.5, color='#333333')

fig.savefig('out.png', dpi=100)
